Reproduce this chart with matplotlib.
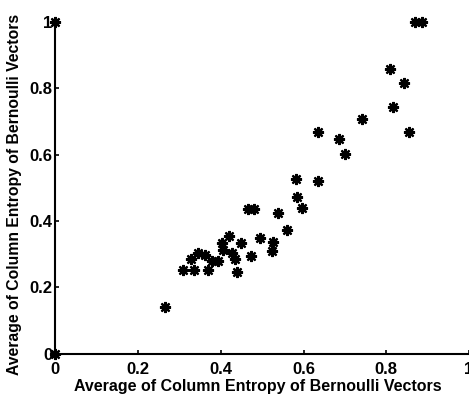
import matplotlib
matplotlib.use("Agg")
import matplotlib.pyplot as plt

x_vals = [0.0, 0.0, 0.869, 0.886, 0.809, 0.844, 0.816, 0.742, 0.854, 0.634,
          0.686, 0.700, 0.582, 0.634, 0.584, 0.597, 0.466, 0.480, 0.539, 0.559,
          0.495, 0.526, 0.524, 0.450, 0.421, 0.426, 0.434, 0.473, 0.438, 0.402,
          0.406, 0.394, 0.378, 0.370, 0.362, 0.345, 0.329, 0.336, 0.308, 0.265]
y_vals = [1.0, 0.0, 1.0, 1.0, 0.858, 0.815, 0.742, 0.708, 0.668, 0.668,
          0.647, 0.602, 0.526, 0.521, 0.471, 0.438, 0.437, 0.437, 0.423, 0.373,
          0.348, 0.337, 0.309, 0.334, 0.354, 0.304, 0.286, 0.295, 0.248, 0.334,
          0.314, 0.281, 0.279, 0.254, 0.299, 0.304, 0.286, 0.254, 0.252, 0.142]
ticks = [0, 0.2, 0.4, 0.6, 0.8, 1]
tick_labels = ["0", "0.2", "0.4", "0.6", "0.8", "1"]
x_label = "Average of Column Entropy of Bernoulli Vectors"
y_label = "Average of Column Entropy of Bernoulli Vectors"

plt.rcParams['font.family'] = ['Liberation Sans', 'DejaVu Sans']

fig = plt.figure(figsize=(4.69, 3.95), dpi=100)
ax = fig.add_axes([0.118, 0.104, 0.882, 0.841])
ax.plot(x_vals, y_vals, linestyle='none', marker=(8, 2, 0), markersize=8,
        markeredgewidth=1.6, color='black', clip_on=False)
ax.set_xlim(0, 1)
ax.set_ylim(0, 1)
ax.set_xticks(ticks)
ax.set_xticklabels(tick_labels)
ax.set_yticks(ticks)
ax.set_yticklabels(tick_labels)
for s in ['top', 'right']:
    ax.spines[s].set_visible(False)
for s in ['left', 'bottom']:
    ax.spines[s].set_linewidth(1.5)
ax.tick_params(direction='in', length=3, width=1.2, labelsize=12)
ax.tick_params(axis='x', pad=6)
ax.tick_params(axis='y', pad=2)
for lbl in ax.get_xticklabels() + ax.get_yticklabels():
    lbl.set_fontweight('bold')
ax.set_xlabel(x_label, fontsize=11.5, fontweight='bold')
ax.set_ylabel(y_label, fontsize=11.3, fontweight='bold')
ax.xaxis.set_label_coords(0.489, -0.075)
ax.yaxis.set_label_coords(-0.08, 0.48)
fig.savefig("out.png", dpi=100)
